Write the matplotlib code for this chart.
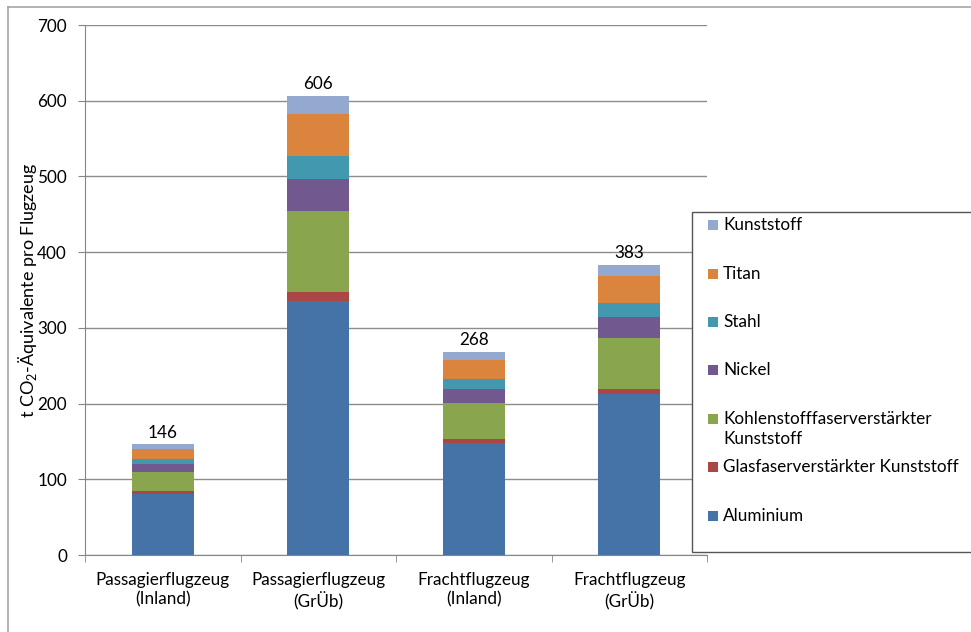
import numpy as np
import matplotlib.pyplot as plt
from matplotlib.patches import Rectangle
from matplotlib.lines import Line2D

plt.rcParams["font.family"] = ["Lato", "DejaVu Sans"]
plt.rcParams["mathtext.fontset"] = "custom"
plt.rcParams["mathtext.rm"] = "Lato"

categories = ["Passagierflugzeug\n(Inland)", "Passagierflugzeug\n(GrÜb)",
              "Frachtflugzeug\n(Inland)", "Frachtflugzeug\n(GrÜb)"]

# stacked from bottom to top
materials = ["Aluminium", "Glasfaserverstärkter Kunststoff",
             "Kohlenstofffaserverstärkter\nKunststoff", "Nickel", "Stahl",
             "Titan", "Kunststoff"]
aluminium = [81, 335, 148, 212]
glasfaser = [3, 12, 5, 7]
kohlenstoff = [26, 107, 48, 68]
nickel = [10, 43, 18, 27]
stahl = [7, 30, 13, 19]
titan = [13, 56, 25, 35]
kunststoff = [6, 23, 11, 15]
totals = [146, 606, 268, 383]

series = [aluminium, glasfaser, kohlenstoff, nickel, stahl, titan, kunststoff]
colors = ["#4572A7", "#AA4643", "#89A54E", "#71588F", "#4198AF",
          "#DB843D", "#93A9CF"]

W, H = 971, 632
fig = plt.figure(figsize=(W / 100, H / 100), dpi=100)
ax = fig.add_axes([85 / W, 1 - 555 / H, (707 - 85) / W, (555 - 25) / H])

x = np.arange(len(categories))
bottom = np.zeros(len(categories))
for vals, col in zip(series, colors):
    ax.bar(x, vals, width=0.4, bottom=bottom, color=col, zorder=3)
    bottom += np.array(vals)

for xi, t in zip(x, totals):
    ax.text(xi, t + 5, str(t), ha="center", va="bottom", fontsize=12.3)

ax.set_xlim(-0.5, 3.5)
ax.set_ylim(0, 700)
ax.set_yticks(range(0, 701, 100))
ax.set_xticks(x)
ax.set_xticklabels(categories, fontsize=12.3, linespacing=1.25)
ax.set_xticks(np.arange(-0.5, 4, 1), minor=True)
ax.tick_params(axis="x", which="major", length=0, pad=12)
ax.tick_params(axis="x", which="minor", length=5, color="#868686", direction="out")
ax.tick_params(axis="y", length=5, color="#868686", labelsize=12.3, pad=8)

ax.grid(axis="y", color="#8C8C8C", linewidth=1, zorder=0)
for s in ["top", "right"]:
    ax.spines[s].set_visible(False)
for s in ["left", "bottom"]:
    ax.spines[s].set_color("#868686")

ax.set_ylabel("t CO$_2$-Äquivalente pro Flugzeug", fontsize=13)
ax.yaxis.set_label_coords(-46 / 622, 0.5)

# chart frame (only top and left edges visible)
fig.add_artist(Line2D([8 / W, 1], [1 - 7 / H, 1 - 7 / H], color="#A6A6A6", lw=1.2))
fig.add_artist(Line2D([8 / W, 8 / W], [0, 1 - 7 / H], color="#A6A6A6", lw=1.2))

# legend box drawn by hand
fig.add_artist(Rectangle((692 / W, 1 - 552 / H), (W - 692) / W + 0.01, (552 - 212) / H,
                         transform=fig.transFigure, facecolor="white",
                         edgecolor="#555555", lw=1, zorder=5))
legend_y = [225, 274, 322, 370, 419, 467, 516]
for name, col, yy in zip(materials[::-1], colors[::-1], legend_y):
    fig.add_artist(Rectangle((708 / W, 1 - (yy + 5) / H), 10 / W, 10 / H,
                             transform=fig.transFigure, facecolor=col,
                             edgecolor="none", zorder=6))
    fig.text(723 / W, 1 - (yy - 8) / H, name, fontsize=12.3, va="top",
             ha="left", zorder=7, linespacing=1.3)

fig.savefig("out.png", dpi=100)
